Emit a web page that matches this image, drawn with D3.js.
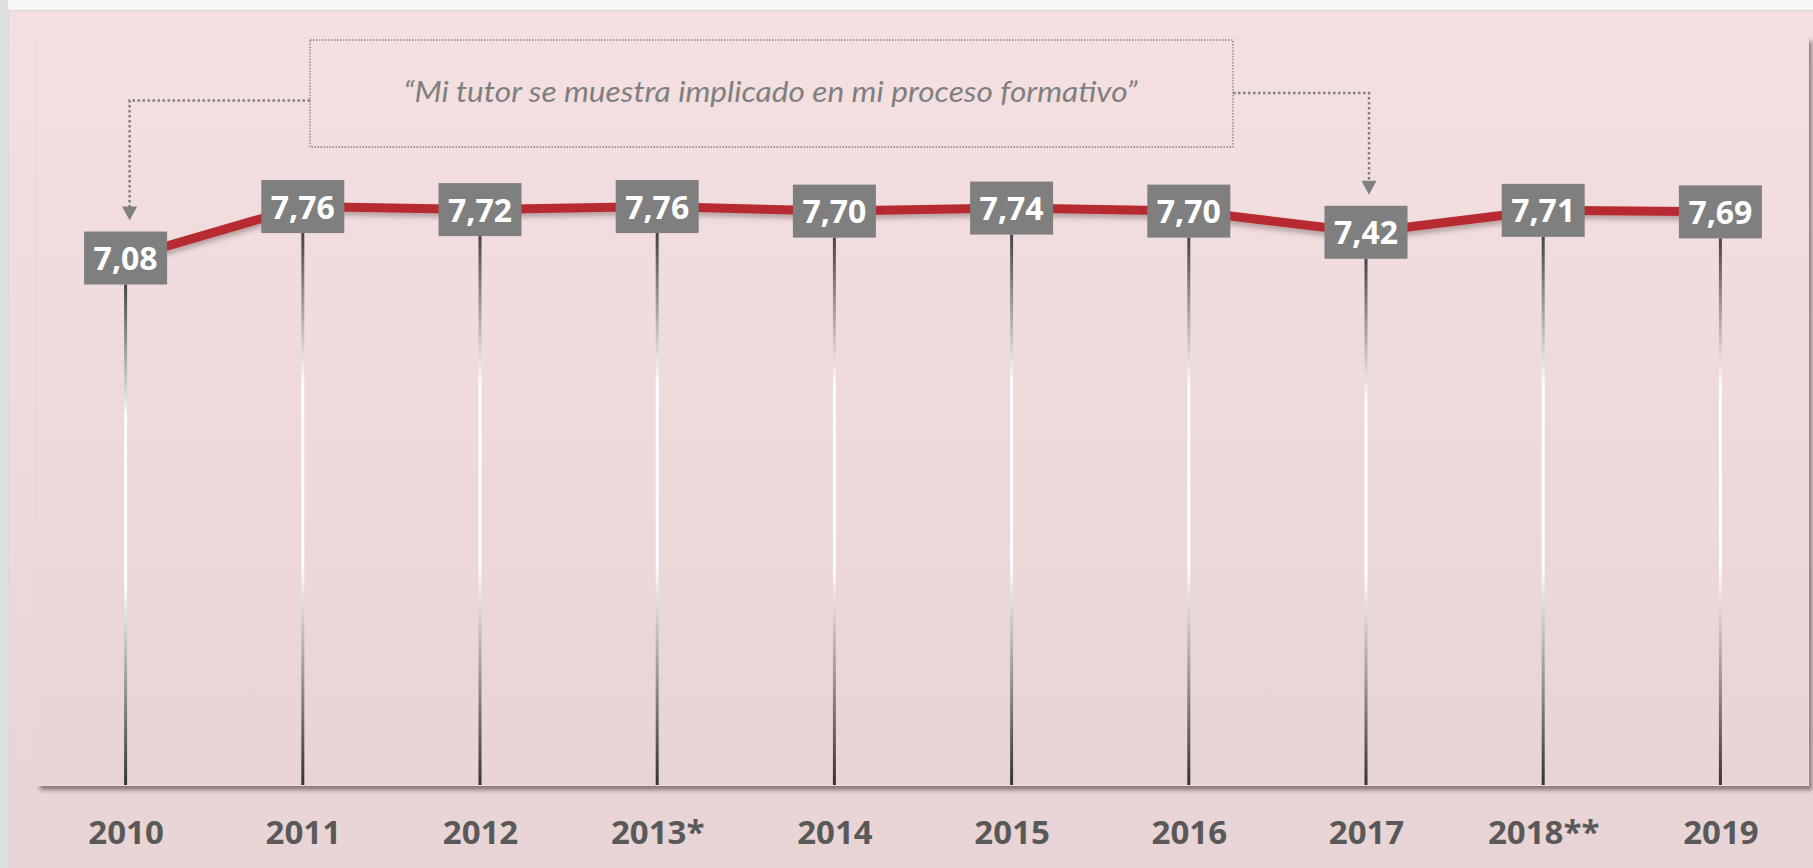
<!DOCTYPE html>
<html>
<head>
<meta charset="utf-8">
<script src="https://cdn.jsdelivr.net/npm/d3@7"></script>
<style>
  body { margin: 0; background: #f7f7f7; overflow: hidden; }
  svg { display: block; }
</style>
</head>
<body>
<svg width="1813" height="868"></svg>
<script>
const years = ['2010', '2011', '2012', '2013*', '2014', '2015', '2016', '2017', '2018**', '2019'];
const scores = [7.08, 7.76, 7.72, 7.76, 7.70, 7.74, 7.70, 7.42, 7.71, 7.69];
const yDomain = [0, 10];
const quoteText = '\u201CMi tutor se muestra implicado en mi proceso formativo\u201D';

const svg = d3.select('svg');
const width = +svg.attr('width');
const height = +svg.attr('height');

const margin = { top: 37, right: 4, bottom: 83, left: 37 };
const innerWidth = width - margin.left - margin.right;
const innerHeight = height - margin.top - margin.bottom;

const esLocale = d3.formatLocale({ decimal: ',', thousands: '.', grouping: [3], currency: ['', ' €'] });
const fmt = esLocale.format('.2f');

const defs = svg.append('defs');

const bgGrad = defs.append('linearGradient')
  .attr('id', 'bg-grad')
  .attr('x1', 0).attr('y1', 0).attr('x2', 0).attr('y2', 1);
bgGrad.append('stop').attr('offset', 0).attr('stop-color', '#f4e0e1');
bgGrad.append('stop').attr('offset', 1).attr('stop-color', '#e9d4d5');

const dropGrad = defs.append('linearGradient')
  .attr('id', 'drop-grad')
  .attr('x1', 0).attr('y1', 0).attr('x2', 0).attr('y2', 1);
dropGrad.append('stop').attr('offset', 0).attr('stop-color', '#444');
dropGrad.append('stop').attr('offset', 0.27).attr('stop-color', '#ffffff');
dropGrad.append('stop').attr('offset', 0.6).attr('stop-color', '#ffffff');
dropGrad.append('stop').attr('offset', 1).attr('stop-color', '#333');

const panelShadow = defs.append('filter')
  .attr('id', 'panel-shadow')
  .attr('x', '-2%').attr('y', '-2%').attr('width', '104%').attr('height', '106%');
panelShadow.append('feDropShadow')
  .attr('dx', 3).attr('dy', 4).attr('stdDeviation', 2)
  .attr('flood-color', '#3a2a2a').attr('flood-opacity', 0.55);

const lineShadow = defs.append('filter')
  .attr('id', 'line-shadow')
  .attr('x', '-5%').attr('y', '-50%').attr('width', '110%').attr('height', '200%');
lineShadow.append('feDropShadow')
  .attr('dx', 0).attr('dy', 4).attr('stdDeviation', 2.5)
  .attr('flood-color', '#4a3030').attr('flood-opacity', 0.35);

// page frame
svg.append('rect')
  .attr('x', 0).attr('y', 0).attr('width', 8).attr('height', height)
  .attr('fill', '#dedede');
svg.append('rect')
  .attr('x', 8).attr('y', 10)
  .attr('width', width - 8).attr('height', height - 10)
  .attr('fill', 'url(#bg-grad)');
svg.append('path')
  .attr('d', `M8.5,${height} V10.5 H${width}`)
  .attr('fill', 'none')
  .attr('stroke', '#d8d8d8');

const g = svg.append('g')
  .attr('transform', `translate(${margin.left},${margin.top})`);

// plot panel
g.append('rect')
  .attr('x', 0.5).attr('y', 0.5)
  .attr('width', innerWidth - 1).attr('height', innerHeight)
  .attr('fill', 'url(#bg-grad)')
  .attr('stroke', '#efdcdd')
  .attr('filter', 'url(#panel-shadow)');

const xScale = d3.scalePoint()
  .domain(years)
  .range([0, innerWidth])
  .padding(0.5);

const yScale = d3.scaleLinear()
  .domain(yDomain)
  .range([innerHeight + 9, 0]);

const data = years.map((year, i) => ({ year, value: scores[i] }));

const boxW = 83;
const boxH = 53;

// drop lines
g.selectAll('rect.drop')
  .data(data)
  .enter()
  .append('rect')
  .attr('class', 'drop')
  .attr('x', d => xScale(d.year) - 1.5)
  .attr('y', d => yScale(d.value) + boxH / 2)
  .attr('width', 3)
  .attr('height', d => innerHeight - yScale(d.value) - boxH / 2)
  .attr('fill', 'url(#drop-grad)');

// x axis labels
const xAxis = d3.axisBottom(xScale).tickSize(0).tickPadding(0);
const xAxisG = g.append('g')
  .attr('transform', `translate(0,${innerHeight})`)
  .call(xAxis);
xAxisG.select('.domain').remove();
xAxisG.selectAll('text')
  .attr('y', 59)
  .attr('dy', null)
  .attr('fill', '#595959')
  .style('font-family', '"Open Sans", sans-serif')
  .style('font-weight', 'bold')
  .style('font-size', '33px');

// score line
const line = d3.line()
  .x(d => xScale(d.year))
  .y(d => yScale(d.value));

g.append('path')
  .datum(data)
  .attr('d', line)
  .attr('fill', 'none')
  .attr('stroke', '#b82a30')
  .attr('stroke-width', 9)
  .attr('filter', 'url(#line-shadow)');

// value boxes
const labels = g.selectAll('g.value')
  .data(data)
  .enter()
  .append('g')
  .attr('class', 'value')
  .attr('transform', d => `translate(${xScale(d.year)},${yScale(d.value)})`);

labels.append('rect')
  .attr('x', -boxW / 2)
  .attr('y', -boxH / 2)
  .attr('width', boxW)
  .attr('height', boxH)
  .attr('fill', '#7f7f7f');

labels.append('text')
  .attr('text-anchor', 'middle')
  .attr('y', 12)
  .attr('fill', '#ffffff')
  .style('font-family', '"Open Sans", sans-serif')
  .style('font-weight', 'bold')
  .style('font-size', '32px')
  .text(d => fmt(d.value));

// annotation
const note = { x: 310, y: 40, w: 923, h: 107 };
svg.append('rect')
  .attr('x', note.x).attr('y', note.y)
  .attr('width', note.w).attr('height', note.h)
  .attr('fill', 'none')
  .attr('stroke', '#808080')
  .attr('stroke-width', 1.3)
  .attr('stroke-dasharray', '1.5 1.5');

svg.append('text')
  .attr('x', note.x + note.w / 2 - 1)
  .attr('y', 102)
  .attr('text-anchor', 'middle')
  .attr('fill', '#7f7f7f')
  .attr('textLength', 734)
  .attr('lengthAdjust', 'spacingAndGlyphs')
  .style('font-family', 'Lato, sans-serif')
  .style('font-style', 'italic')
  .style('font-size', '29px')
  .text(quoteText);

const arrowFor = (year, dxLine, yRow, fromX) => {
  const d = data[years.indexOf(year)];
  const ax = margin.left + xScale(year) + dxLine;
  const tipY = margin.top + yScale(d.value) - boxH / 2 - 11;
  svg.append('path')
    .attr('d', `M${fromX},${yRow} H${ax} V${tipY - 13}`)
    .attr('fill', 'none')
    .attr('stroke', '#808080')
    .attr('stroke-width', 2.5)
    .attr('stroke-dasharray', '2.5 2.5');
  svg.append('path')
    .attr('d', `M${ax - 7.5},${tipY - 14} L${ax + 7.5},${tipY - 14} L${ax},${tipY} Z`)
    .attr('fill', '#808080');
};

arrowFor('2010', 4, 100.5, note.x);
arrowFor('2017', 3, 93, note.x + note.w);
</script>
</body>
</html>
